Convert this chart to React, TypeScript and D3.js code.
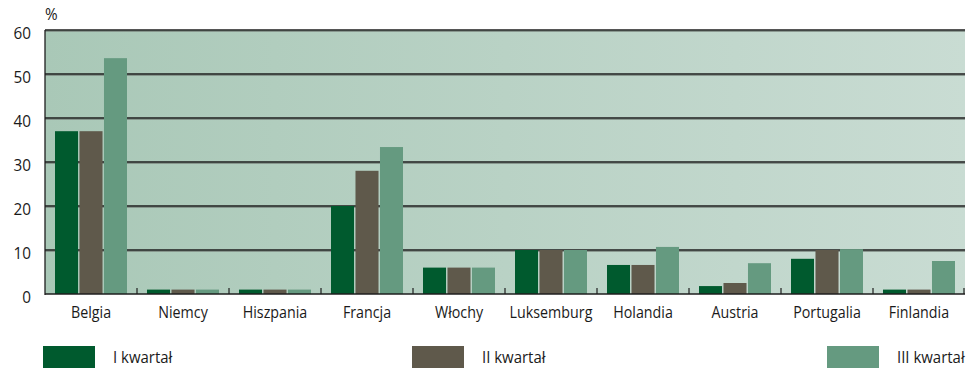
import React from "react";
import * as d3 from "d3";

const countries = ["Belgia", "Niemcy", "Hiszpania", "Francja", "Włochy", "Luksemburg", "Holandia", "Austria", "Portugalia", "Finlandia"];
const q1 = [37, 1, 1, 20, 6, 10, 6.6, 1.8, 8, 1];
const q2 = [37, 1, 1, 28, 6, 10, 6.6, 2.5, 10, 1];
const q3 = [53.6, 1, 1, 33.4, 6, 10, 10.7, 7, 10.2, 7.5];
const seriesNames = ["I kwartał", "II kwartał", "III kwartał"];
const seriesColors = ["#005a2e", "#5f594b", "#659a80"];
const yTicks = [0, 10, 20, 30, 40, 50, 60];

const W = 974;
const H = 369;
const left = 45;
const right = 965;
const top = 30;
const bottom = 294;
const font = "'Open Sans', sans-serif";

// Narrow text: Open Sans squeezed horizontally
function Label(props: { x: number; y: number; anchor?: string; size: number; sx: number; children: React.ReactNode }) {
  const { x, y, anchor = "start", size, sx, children } = props;
  return (
    <text
      transform={`translate(${x},${y}) scale(${sx},1)`}
      textAnchor={anchor}
      fontFamily={font}
      fontSize={size}
      fill="#1a1a1a"
    >
      {children}
    </text>
  );
}

export default function App() {
  const series = [q1, q2, q3];
  const x = d3.scaleBand<string>().domain(countries).range([left, right]);
  const inner = d3
    .scaleBand<number>()
    .domain([0, 1, 2])
    .range([10, x.bandwidth() - 10])
    .paddingInner(0.06);
  const y = d3.scaleLinear().domain([0, 60]).range([bottom, top]);

  const legendX = [43, 412, 827];

  return (
    <div style={{ position: "absolute", left: 0, top: 0 }}>
      <svg width={W} height={H} style={{ display: "block" }}>
        <defs>
          <linearGradient id="bg" x1="0" x2="1" y1="0" y2="0">
            <stop offset="0" stopColor="#a9c8b7" />
            <stop offset="1" stopColor="#c9dcd3" />
          </linearGradient>
        </defs>
        <rect x={left} y={top} width={right - left} height={bottom - top} fill="url(#bg)" />

        {yTicks.slice(1).map((t) => (
          <g key={t}>
            <line x1={left} x2={right} y1={y(t) + 1.3} y2={y(t) + 1.3} stroke="#7d8a83" strokeWidth={1} />
            <line x1={left} x2={right} y1={y(t)} y2={y(t)} stroke="#1e1e1e" strokeWidth={1.3} />
          </g>
        ))}

        {series.map((vals, si) =>
          countries.map((c, ci) => (
            <rect
              key={`${si}-${c}`}
              x={(x(c) ?? 0) + (inner(si) ?? 0)}
              y={y(vals[ci])}
              width={inner.bandwidth()}
              height={bottom - y(vals[ci])}
              fill={seriesColors[si]}
            />
          ))
        )}

        <line x1={left} x2={left} y1={top} y2={bottom + 1} stroke="#1e1e1e" strokeWidth={1.3} />
        <line x1={left} x2={right} y1={bottom} y2={bottom} stroke="#1e1e1e" strokeWidth={1.3} />
        {countries.map((c, i) =>
          i === 0 ? null : (
            <line key={c} x1={x(c)} x2={x(c)} y1={bottom - 6} y2={bottom} stroke="#1e1e1e" strokeWidth={1.2} />
          )
        )}
        <line x1={right - 1} x2={right - 1} y1={bottom - 6} y2={bottom} stroke="#1e1e1e" strokeWidth={1.2} />

        {yTicks.map((t) => (
          <Label key={t} x={31} y={y(t) + 9} anchor="end" size={17} sx={0.9}>
            {t}
          </Label>
        ))}
        <Label x={45} y={20} size={17} sx={0.9}>%</Label>

        {countries.map((c) => (
          <Label key={c} x={(x(c) ?? 0) + x.bandwidth() / 2} y={318} anchor="middle" size={17} sx={0.84}>
            {c}
          </Label>
        ))}

        {seriesNames.map((n, i) => (
          <g key={n}>
            <rect x={legendX[i]} y={346} width={52} height={22} fill={seriesColors[i]} />
            <Label x={legendX[i] + 70} y={363} size={17} sx={0.88}>
              {n}
            </Label>
          </g>
        ))}
      </svg>
    </div>
  );
}
